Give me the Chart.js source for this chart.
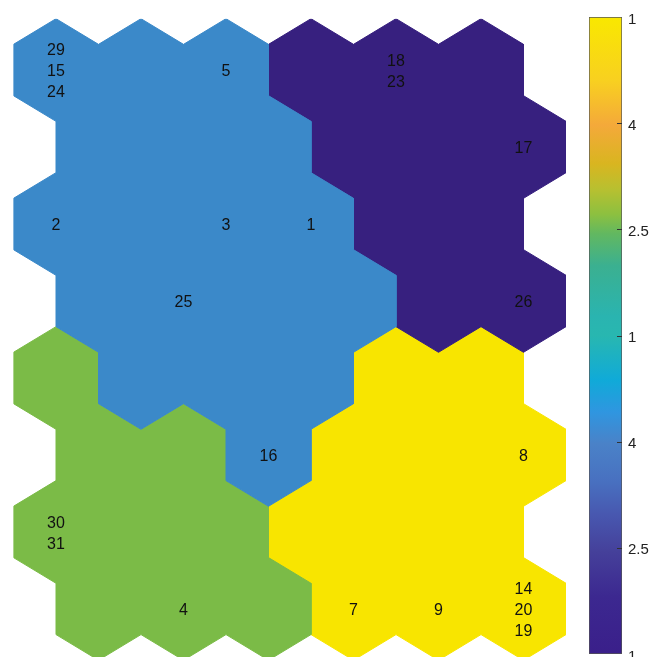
<!DOCTYPE html>
<html>
<head>
<meta charset="utf-8">
<script src="https://cdn.jsdelivr.net/npm/chart.js@4/dist/chart.umd.min.js"></script>
<style>
  html, body { margin: 0; padding: 0; background: #fff; }
  #wrap { position: relative; width: 651px; height: 657px; overflow: hidden; }
  #som { position: absolute; left: 0; top: 0; }
  #bar { position: absolute; left: 560px; top: 0; }
</style>
</head>
<body>
<div id="wrap">
  <canvas id="som" width="651" height="657"></canvas>
  <canvas id="bar" width="91" height="657"></canvas>
</div>
<script>
// SOM grid: 6 columns x 8 rows, odd rows shifted half a cell right
const gridCols = 6;
const gridRows = 8;

// cluster of each cell, row by row from the top
const clusterColors = ['#3b89c9', '#37207f', '#7bbb47', '#f8e500'];
const cellClusters = [
  [0, 0, 0, 1, 1, 1],
  [0, 0, 0, 1, 1, 1],
  [0, 0, 0, 0, 1, 1],
  [0, 0, 0, 0, 1, 1],
  [2, 0, 0, 0, 3, 3],
  [2, 2, 0, 3, 3, 3],
  [2, 2, 2, 3, 3, 3],
  [2, 2, 2, 3, 3, 3]
];

// sample numbers written in the cells
const labelRows = [0, 0, 0, 1, 2, 2, 2, 3, 3, 5, 5, 6, 7, 7, 7, 7];
const labelCols = [0, 2, 4, 5, 0, 2, 3, 1, 5, 2, 5, 0, 1, 3, 4, 5];
const labelTexts = [
  ['29', '15', '24'], ['5'], ['18', '23'], ['17'],
  ['2'], ['3'], ['1'], ['25'], ['26'], ['16'], ['8'],
  ['30', '31'], ['4'], ['7'], ['9'], ['14', '20', '19']
];

// colour bar tick labels, top to bottom
const colorbarTicks = ['1', '4', '2.5', '1', '4', '2.5', '1'];

// colour bar palette (position from bottom, colour)
const paletteStops = [
  [0.00, '#3a1f8a'], [0.09, '#3c2890'], [0.16, '#45409a'], [0.22, '#4858b0'],
  [0.27, '#4870c0'], [0.33, '#4a82c8'], [0.38, '#2f96e0'], [0.43, '#10aad8'],
  [0.50, '#28b7b0'], [0.53, '#2ab4b0'], [0.61, '#3bb090'], [0.66, '#62b860'],
  [0.69, '#8cc040'], [0.73, '#b8c030'], [0.77, '#d9b520'], [0.83, '#f4a93a'],
  [0.90, '#f8d020'], [1.00, '#f9e800']
];

const ROW_H = Math.sqrt(3) / 2;
const HEX_R = 1 / Math.sqrt(3);

function cellCenter(row, col) {
  return { x: col + (row % 2) * 0.5, y: row * ROW_H };
}

function hexPoints(row, col) {
  const c = cellCenter(row, col);
  return [
    { x: c.x, y: c.y - HEX_R },
    { x: c.x + 0.5, y: c.y - HEX_R / 2 },
    { x: c.x + 0.5, y: c.y + HEX_R / 2 },
    { x: c.x, y: c.y + HEX_R },
    { x: c.x - 0.5, y: c.y + HEX_R / 2 },
    { x: c.x - 0.5, y: c.y - HEX_R / 2 }
  ];
}

// outline(s) of all cells of one cluster: shared hex edges cancel out
function clusterOutlines(k) {
  const key = p => p.x.toFixed(4) + ',' + p.y.toFixed(4);
  const edges = {};
  for (let r = 0; r < gridRows; r++) {
    for (let c = 0; c < gridCols; c++) {
      if (cellClusters[r][c] !== k) continue;
      const pts = hexPoints(r, c);
      for (let i = 0; i < 6; i++) {
        const a = pts[i], b = pts[(i + 1) % 6];
        const back = key(b) + '|' + key(a);
        if (edges[back]) delete edges[back];
        else edges[key(a) + '|' + key(b)] = { a, b };
      }
    }
  }
  const next = {};
  Object.values(edges).forEach(e => { next[key(e.a)] = e; });
  const loops = [];
  const used = {};
  Object.keys(next).forEach(start => {
    if (used[start]) return;
    const loop = [];
    let k2 = start;
    while (!used[k2]) {
      used[k2] = true;
      loop.push(next[k2].a);
      k2 = key(next[k2].b);
    }
    loop.push(loop[0]);
    loops.push(loop);
  });
  return loops;
}

// one filled polygon dataset per cluster region
const hexDatasets = [];
clusterColors.forEach(function(color, k) {
  clusterOutlines(k).forEach(function(loop) {
    hexDatasets.push({
      data: loop,
      showLine: true,
      fill: 'shape',
      backgroundColor: color,
      borderColor: color,
      borderWidth: 1,
      borderJoinStyle: 'miter',
      pointRadius: 0,
      tension: 0
    });
  });
});

// writes the sample numbers at the cell centres
const cellLabels = {
  id: 'cellLabels',
  afterDatasetsDraw(chart) {
    const ctx = chart.ctx;
    const xs = chart.scales.x, ys = chart.scales.y;
    ctx.save();
    ctx.font = '16px "Liberation Sans", Arial, sans-serif';
    ctx.fillStyle = '#111';
    ctx.textAlign = 'center';
    ctx.textBaseline = 'middle';
    labelTexts.forEach(function(lines, i) {
      const c = cellCenter(labelRows[i], labelCols[i]);
      const px = xs.getPixelForValue(c.x);
      const py = ys.getPixelForValue(c.y) + 2;
      const step = 21;
      const top = py - (lines.length - 1) * step / 2;
      lines.forEach(function(t, k) {
        ctx.fillText(t, px, top + k * step);
      });
    });
    ctx.restore();
  }
};

new Chart(document.getElementById('som'), {
  type: 'scatter',
  data: { datasets: hexDatasets },
  options: {
    responsive: false,
    animation: false,
    events: [],
    layout: { padding: { left: 13.5, right: 85, top: 18.7, bottom: 0 } },
    plugins: { legend: { display: false }, tooltip: { enabled: false } },
    scales: {
      x: { type: 'linear', min: -0.5, max: 6.0, display: false },
      y: { type: 'linear', reverse: true, min: -HEX_R, max: 6.603, display: false }
    }
  },
  plugins: [cellLabels]
});

// small inward tick marks on the right edge of the colour bar
const barTicks = {
  id: 'barTicks',
  afterDatasetsDraw(chart) {
    const ctx = chart.ctx;
    const ys = chart.scales.y;
    const right = chart.chartArea.right;
    ctx.save();
    ctx.strokeStyle = '#333';
    ctx.lineWidth = 1;
    for (let v = 1; v < colorbarTicks.length - 1; v++) {
      const y = Math.round(ys.getPixelForValue(v)) + 0.5;
      ctx.beginPath();
      ctx.moveTo(right - 5, y);
      ctx.lineTo(right, y);
      ctx.stroke();
    }
    ctx.restore();
  }
};

new Chart(document.getElementById('bar'), {
  type: 'bar',
  data: {
    labels: ['c'],
    datasets: [{
      data: [[0, colorbarTicks.length - 1]],
      barPercentage: 1,
      categoryPercentage: 1,
      borderWidth: 1,
      borderColor: '#555',
      borderSkipped: false,
      backgroundColor: function(context) {
        const area = context.chart.chartArea;
        if (!area) return null;
        const g = context.chart.ctx.createLinearGradient(0, area.bottom, 0, area.top);
        paletteStops.forEach(function(s) { g.addColorStop(s[0], s[1]); });
        return g;
      }
    }]
  },
  options: {
    responsive: false,
    animation: false,
    events: [],
    layout: { padding: { left: 29, right: 0, top: 17, bottom: 3 } },
    plugins: { legend: { display: false }, tooltip: { enabled: false } },
    scales: {
      x: { display: false },
      y: {
        position: 'right',
        min: 0,
        max: colorbarTicks.length - 1,
        grid: { display: false, drawTicks: false },
        border: { display: false },
        ticks: {
          stepSize: 1,
          padding: 6,
          labelOffset: 2.5,
          color: '#222',
          font: { size: 15, family: '"Liberation Sans", Arial, sans-serif' },
          callback: function(value) {
            return colorbarTicks[colorbarTicks.length - 1 - value];
          }
        },
        afterFit: function(scale) {
          scale.width = 29;
          scale.paddingTop = 0;
          scale.paddingBottom = 0;
        }
      }
    }
  },
  plugins: [barTicks]
});
</script>
</body>
</html>
